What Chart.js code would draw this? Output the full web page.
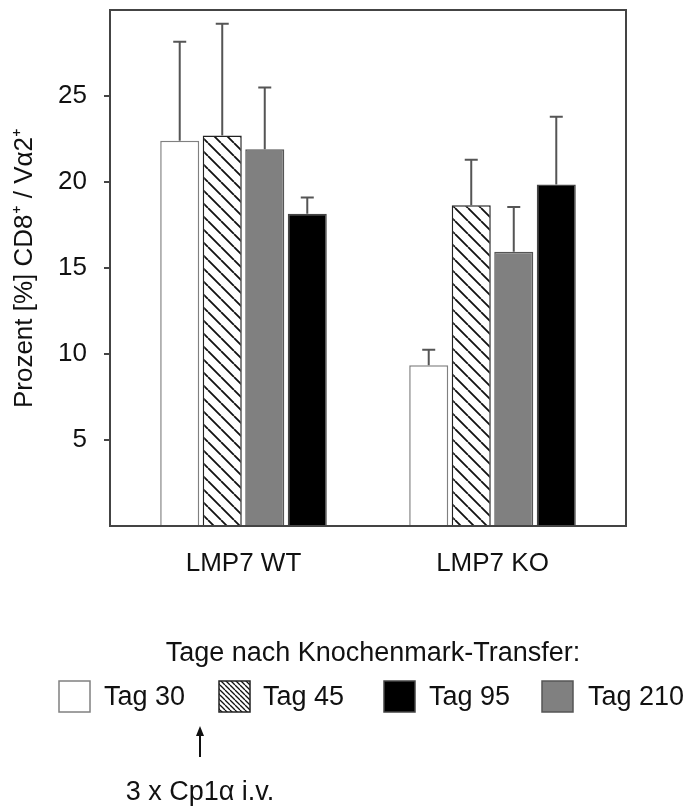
<!DOCTYPE html>
<html>
<head>
<meta charset="utf-8">
<script src="https://cdn.jsdelivr.net/npm/chart.js@4.4.1/dist/chart.umd.min.js"></script>
<style>
    html, body { margin: 0; padding: 0; background: #fff; }
</style>
</head>
<body>
<canvas id="chart1" width="686" height="807"></canvas>
<script>
const groups = ["LMP7 WT", "LMP7 KO"];

// means per group, in the order the bars stand
const tag30 = [22.4, 9.35];
const tag45 = [22.7, 18.65];
const tag210 = [21.9, 15.95];
const tag95 = [18.15, 19.85];

// upper error bars (SD)
const tag30Err = [5.75, 0.9];
const tag45Err = [6.5, 2.65];
const tag210Err = [3.6, 2.6];
const tag95Err = [0.95, 3.95];

const yTicks = [5, 10, 15, 20, 25];
const legendOrder = ["Tag 30", "Tag 45", "Tag 95", "Tag 210"];

const FONT = "'Liberation Sans', Arial, sans-serif";
Chart.defaults.font.family = FONT;
Chart.defaults.color = "#111";

// diagonal "\" hatch
function hatch(step, lw) {
    const c = document.createElement("canvas");
    c.width = step;
    c.height = step;
    const g = c.getContext("2d");
    g.fillStyle = "#fff";
    g.fillRect(0, 0, step, step);
    g.strokeStyle = "#111";
    g.lineWidth = lw;
    g.beginPath();
    for (const k of [-step, 0, step]) {
        g.moveTo(k, 0);
        g.lineTo(k + step, step);
    }
    g.stroke();
    return g.createPattern(c, "repeat");
}

const ctx = document.getElementById("chart1").getContext("2d");
const barHatch = hatch(13, 1.8);
const swatchHatch = hatch(5, 1.3);

const errorBars = {
    id: "errorBars",
    afterDatasetsDraw(chart) {
        const c = chart.ctx, y = chart.scales.y;
        c.save();
        c.strokeStyle = "#555";
        c.lineWidth = 2;
        chart.data.datasets.forEach((ds, i) => {
            chart.getDatasetMeta(i).data.forEach((bar, j) => {
                const top = y.getPixelForValue(ds.data[j] + ds.errUp[j]);
                c.beginPath();
                c.moveTo(bar.x, bar.y);
                c.lineTo(bar.x, top);
                c.moveTo(bar.x - 6.5, top);
                c.lineTo(bar.x + 6.5, top);
                c.stroke();
            });
        });
        c.restore();
    }
};

// frame around the plot, y tick marks, legend and notes below
const frame = {
    id: "frame",
    afterDraw(chart) {
        const c = chart.ctx, a = chart.chartArea, y = chart.scales.y;
        const l = a.left - 9, r = a.right + 9;
        c.save();
        c.strokeStyle = "#444";
        c.lineWidth = 2;
        c.strokeRect(l, a.top, r - l, a.bottom - a.top);
        c.beginPath();
        yTicks.forEach(v => {
            const py = Math.round(y.getPixelForValue(v));
            c.moveTo(l - 6, py);
            c.lineTo(l, py);
        });
        c.stroke();

        c.fillStyle = "#111";
        c.font = "27px " + FONT;
        c.textAlign = "center";
        c.textBaseline = "alphabetic";
        c.fillText("Tage nach Knochenmark-Transfer:", 373, 661);

        const boxX = [59, 219, 384, 542];
        const textX = [104, 263, 429, 588];
        legendOrder.forEach((name, i) => {
            const ds = chart.data.datasets.find(d => d.label === name);
            c.fillStyle = name === "Tag 45" ? swatchHatch : ds.backgroundColor;
            c.fillRect(boxX[i], 681, 31, 31);
            c.strokeStyle = ds.borderColor;
            c.lineWidth = 1.5;
            c.strokeRect(boxX[i], 681, 31, 31);
            c.fillStyle = "#111";
            c.textAlign = "left";
            c.fillText(name, textX[i], 705);
        });

        // arrow marking the injections
        c.strokeStyle = "#111";
        c.lineWidth = 2;
        c.beginPath();
        c.moveTo(200, 757);
        c.lineTo(200, 733);
        c.stroke();
        c.beginPath();
        c.moveTo(200, 726);
        c.lineTo(196, 736);
        c.lineTo(204, 736);
        c.closePath();
        c.fillStyle = "#111";
        c.fill();

        c.textAlign = "center";
        c.fillText("3 x Cp1\u03b1 i.v.", 200, 800);
        c.restore();
    }
};

const barChart = new Chart(ctx, {
    type: "bar",
    data: {
        labels: groups,
        datasets: [
            { label: "Tag 30", data: tag30, errUp: tag30Err, backgroundColor: "#ffffff", borderColor: "#808080" },
            { label: "Tag 45", data: tag45, errUp: tag45Err, backgroundColor: barHatch, borderColor: "#222" },
            { label: "Tag 210", data: tag210, errUp: tag210Err, backgroundColor: "#808080", borderColor: "#555" },
            { label: "Tag 95", data: tag95, errUp: tag95Err, backgroundColor: "#000000", borderColor: "#444" }
        ].map(d => Object.assign(d, { borderWidth: 1.5, categoryPercentage: 0.683, barPercentage: 0.918 }))
    },
    options: {
        responsive: false,
        animation: false,
        layout: { autoPadding: false, padding: { top: 10, right: 69, bottom: 0, left: 0 } },
        plugins: { legend: { display: false }, tooltip: { enabled: false } },
        scales: {
            x: {
                offset: true,
                afterFit(s) {
                    s.height = 281;
                    s.paddingLeft = 0;
                    s.paddingRight = 0;
                },
                border: { display: false },
                grid: { display: false, drawTicks: false },
                ticks: { padding: 22, font: { size: 26 } }
            },
            y: {
                min: 0,
                max: 30,
                afterFit(s) {
                    s.width = 119;
                    s.paddingTop = 0;
                    s.paddingBottom = 0;
                },
                afterBuildTicks(s) { s.ticks = yTicks.map(v => ({ value: v })); },
                border: { display: false },
                grid: { display: false, drawTicks: false },
                ticks: { padding: 32, font: { size: 26 } },
                title: {
                    display: true,
                    text: "Prozent [%] CD8\u207a / V\u03b12\u207a",
                    font: { size: 26 },
                    padding: { top: 9, bottom: 0 }
                }
            }
        }
    },
    plugins: [errorBars, frame]
});
</script>
</body>
</html>
